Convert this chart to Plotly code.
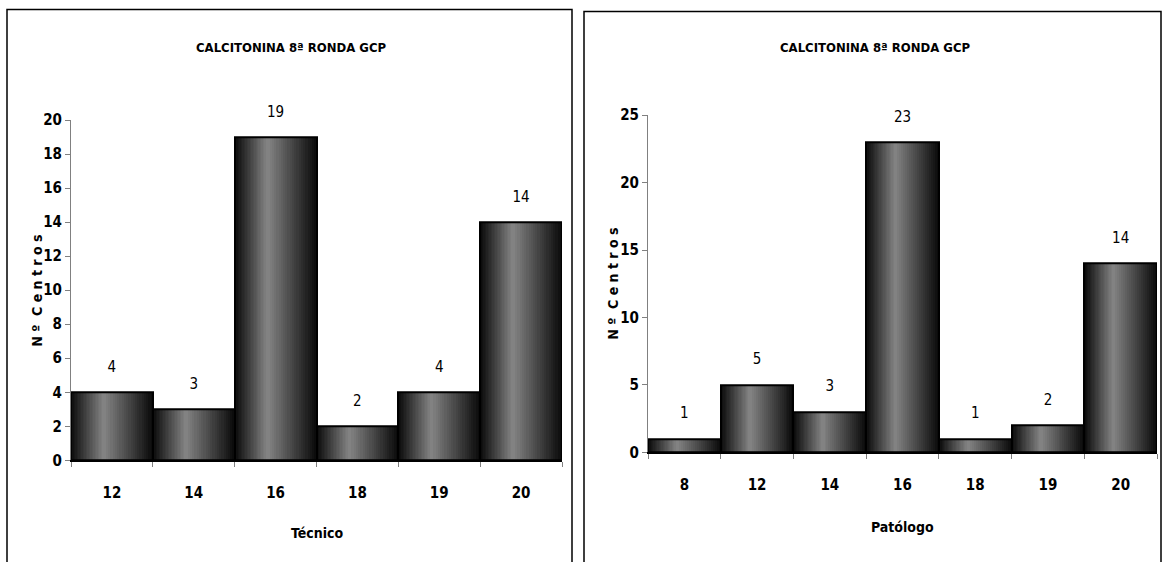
import plotly.graph_objects as go

# ---------------- data ----------------
tec_categories = ["12", "14", "16", "18", "19", "20"]
tec_values = [4, 3, 19, 2, 4, 14]

pat_categories = ["8", "12", "14", "16", "18", "19", "20"]
pat_values = [1, 5, 3, 23, 1, 2, 14]

title_text = "CALCITONINA 8ª RONDA GCP"
y_title = "N º  C e n t r o s"
tec_x_title = "Técnico"
pat_x_title = "Patólogo"

# ---------------- style ----------------
W, H = 1164, 562
FONT = "Liberation Sans Narrow, Arial Narrow, DejaVu Sans Condensed, sans-serif"
N_LAYERS = 22
PEAK = 0.4  # relative position of the lightest part of the gradient
LABEL_PAD = 25  # invisible marker size that lifts the value labels

# vertical calibration of the captured page (observed: page_y = 7.5 + 0.9706 * fig_y)
V_OFF, V_SCALE = 7.5, 0.9706


def px_x(p):
    return p / W


def px_y(p):
    return 1 - ((p - V_OFF) / V_SCALE) / H


fig = go.Figure()


def add_gradient_bars(cats, vals, xa, ya):
    for k in range(N_LAYERS):
        t = k / N_LAYERS
        a = t * PEAK
        b = 1 - t * (1 - PEAK)
        g = int(12 + 124 * t)
        fig.add_trace(go.Bar(
            x=cats, y=vals, xaxis=xa, yaxis=ya,
            width=b - a, offset=a - 0.5,
            marker=dict(color=f"rgb({g},{g},{g})", line=dict(width=0)),
            hoverinfo="skip", showlegend=False,
        ))
    # outline on top
    fig.add_trace(go.Bar(
        x=cats, y=vals, xaxis=xa, yaxis=ya,
        width=1, offset=-0.5,
        marker=dict(color="rgba(0,0,0,0)", line=dict(color="black", width=2)),
        showlegend=False,
    ))
    # value labels
    fig.add_trace(go.Scatter(
        x=cats, y=vals, xaxis=xa, yaxis=ya,
        mode="markers+text", text=[str(v) for v in vals],
        textposition="top center",
        textfont=dict(family=FONT, size=15, color="black"),
        marker=dict(size=LABEL_PAD, color="rgba(0,0,0,0)"),
        cliponaxis=False, hoverinfo="skip", showlegend=False,
    ))


add_gradient_bars(tec_categories, tec_values, "x", "y")
add_gradient_bars(pat_categories, pat_values, "x2", "y2")

title_font = dict(family=FONT, size=13, color="black")
axis_title_font = dict(family=FONT, size=14, color="black")
annotations = [
    dict(x=px_x(291), y=px_y(46), xref="paper", yref="paper", text=f"<b>{title_text}</b>",
         showarrow=False, font=title_font, xanchor="center", yanchor="middle"),
    dict(x=px_x(875), y=px_y(46), xref="paper", yref="paper", text=f"<b>{title_text}</b>",
         showarrow=False, font=title_font, xanchor="center", yanchor="middle"),
    dict(x=px_x(37), y=px_y(290), xref="paper", yref="paper", text=f"<b>{y_title}</b>",
         showarrow=False, textangle=-90, font=axis_title_font,
         xanchor="center", yanchor="middle"),
    dict(x=px_x(613), y=px_y(283), xref="paper", yref="paper", text=f"<b>{y_title}</b>",
         showarrow=False, textangle=-90, font=axis_title_font,
         xanchor="center", yanchor="middle"),
    dict(x=px_x(317), y=px_y(533), xref="paper", yref="paper", text=f"<b>{tec_x_title}</b>",
         showarrow=False, font=axis_title_font, xanchor="center", yanchor="middle"),
    dict(x=px_x(902), y=px_y(527), xref="paper", yref="paper", text=f"<b>{pat_x_title}</b>",
         showarrow=False, font=axis_title_font, xanchor="center", yanchor="middle"),
]

xaxis_common = dict(
    type="category", showgrid=False, zeroline=False,
    showline=True, linecolor="black", linewidth=2,
    ticks="outside", tickson="boundaries", ticklen=5, tickcolor="#808080",
    ticklabelstandoff=18,
    tickfont=dict(family=FONT, size=15, color="black", weight="bold"),
    fixedrange=True,
)
yaxis_common = dict(
    showgrid=False, zeroline=False,
    showline=True, linecolor="#808080", linewidth=1,
    ticks="outside", ticklen=5, tickcolor="#808080",
    tickfont=dict(family=FONT, size=15, color="black", weight="bold"),
    fixedrange=True,
)

fig.update_layout(
    width=W, height=H, autosize=False,
    margin=dict(l=0, r=0, t=0, b=0),
    paper_bgcolor="white", plot_bgcolor="white",
    barmode="overlay", bargap=0,
    showlegend=False,
    xaxis=dict(xaxis_common, domain=[px_x(71), px_x(562)], anchor="y",
               range=[-0.5, len(tec_categories) - 0.5]),
    yaxis=dict(yaxis_common, domain=[px_y(460), px_y(119)], anchor="x",
               range=[0, 20], dtick=2),
    xaxis2=dict(xaxis_common, domain=[px_x(648), px_x(1157)], anchor="y2",
                range=[-0.5, len(pat_categories) - 0.5]),
    yaxis2=dict(yaxis_common, domain=[px_y(452), px_y(114)], anchor="x2",
                range=[0, 25], dtick=5),
    annotations=annotations,
    shapes=[
        dict(type="rect", xref="paper", yref="paper",
             x0=px_x(7), x1=px_x(572), y0=-0.05, y1=px_y(8),
             line=dict(color="black", width=1.5), fillcolor="rgba(0,0,0,0)"),
        dict(type="rect", xref="paper", yref="paper",
             x0=px_x(584), x1=px_x(1161), y0=-0.05, y1=px_y(10),
             line=dict(color="black", width=1.5), fillcolor="rgba(0,0,0,0)"),
    ],
)

fig.write_html(
    "out.html",
    config={"responsive": False, "displayModeBar": False},
    post_script="document.body.style.margin='0';document.body.style.overflow='hidden';",
)
